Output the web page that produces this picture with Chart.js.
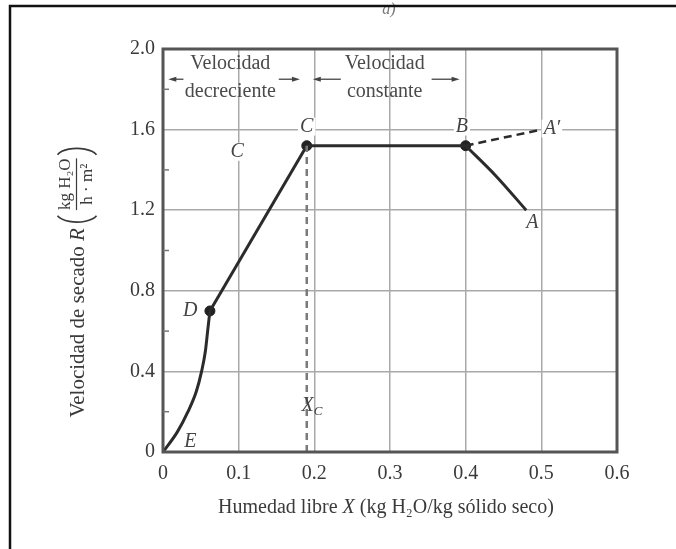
<!DOCTYPE html>
<html lang="es">
<head>
  <meta charset="utf-8">
  <title>Curva de velocidad de secado</title>
  <script src="https://cdn.jsdelivr.net/npm/chart.js@4.4.1/dist/chart.umd.min.js"></script>
  <style>
    html, body { margin: 0; padding: 0; background: #fff; }
    #chart-secado { display: block; }
  </style>
</head>
<body>
  <canvas id="chart-secado" width="676" height="549"></canvas>
  <script>
    // Tramo E-D: velocidad decreciente, parte curva
    var tramoEDx = [0, 0.019, 0.033, 0.044, 0.051, 0.056, 0.059, 0.062];
    var tramoEDy = [0, 0.10, 0.20, 0.30, 0.40, 0.50, 0.60, 0.70];
    // Tramo D-C: recta
    var tramoDCx = [0.062, 0.19];
    var tramoDCy = [0.70, 1.52];
    // Tramo C-B: velocidad constante
    var tramoCBx = [0.19, 0.40];
    var tramoCBy = [1.52, 1.52];
    // Tramo B-A: periodo de ajuste
    var tramoBAx = [0.40, 0.44, 0.48];
    var tramoBAy = [1.52, 1.37, 1.20];
    // Tramo B-A' (discontinuo)
    var tramoBA2x = [0.40, 0.50];
    var tramoBA2y = [1.52, 1.60];
    // Humedad critica Xc
    var criticoX = [0.19, 0.19];
    var criticoY = [0, 1.52];
    // Puntos marcados D, C, B
    var puntosX = [0.062, 0.19, 0.40];
    var puntosY = [0.70, 1.52, 1.52];

    var xTicks = [0, 0.1, 0.2, 0.3, 0.4, 0.5, 0.6];
    var yTicks = [0, 0.4, 0.8, 1.2, 1.6, 2.0];
    var yMenores = [0.2, 0.6, 1.0, 1.4, 1.8];

    // Flechas de las zonas (inicio -> punta), a R = 1.85
    var flechaY = 1.85;
    var flechaDesde = [0.027, 0.153, 0.235, 0.355];
    var flechaHasta = [0.007, 0.181, 0.198, 0.392];

    // Rotulos en coordenadas de datos
    var rotuloTexto = ['Velocidad', 'decreciente', 'Velocidad', 'constante'];
    var rotuloX = [0.089, 0.089, 0.293, 0.293];
    var rotuloY = [1.925, 1.786, 1.925, 1.786];

    var letraTexto = ['C', 'C', 'B', 'A\u2032', 'A', 'D', 'E'];
    var letraX = [0.19, 0.098, 0.395, 0.514, 0.488, 0.036, 0.036];
    var letraY = [1.615, 1.49, 1.615, 1.605, 1.14, 0.70, 0.05];

    var SERIF = '"Liberation Serif", "DejaVu Serif", serif';
    var TINTA = '#3a3a3a';

    function pares(xs, ys) {
      var out = [];
      for (var i = 0; i < xs.length; i++) out.push({ x: xs[i], y: ys[i] });
      return out;
    }

    function tramo(xs, ys, extra) {
      var ds = {
        data: pares(xs, ys),
        showLine: true,
        pointRadius: 0,
        borderColor: '#2b2b2b',
        borderWidth: 3,
        fill: false
      };
      for (var k in extra) ds[k] = extra[k];
      return ds;
    }

    // dibuja varios trozos de texto seguidos, centrados en (cx, cy)
    function textoMixto(ctx, trozos, cx, cy) {
      var total = 0;
      for (var i = 0; i < trozos.length; i++) {
        ctx.font = trozos[i].font;
        trozos[i].w = ctx.measureText(trozos[i].text).width;
        total += trozos[i].w;
      }
      var x = cx - total / 2;
      ctx.textAlign = 'left';
      ctx.textBaseline = 'middle';
      for (var j = 0; j < trozos.length; j++) {
        ctx.font = trozos[j].font;
        ctx.fillText(trozos[j].text, x, cy + (trozos[j].dy || 0));
        x += trozos[j].w;
      }
    }

    var decoracion = {
      id: 'decoracion',
      beforeDraw: function(chart) {
        var ctx = chart.ctx;
        ctx.save();
        ctx.fillStyle = '#fff';
        ctx.fillRect(0, 0, chart.width, chart.height);
        ctx.fillStyle = '#777';
        ctx.font = 'italic 16px ' + SERIF;
        ctx.textAlign = 'center';
        ctx.textBaseline = 'alphabetic';
        ctx.fillText('a)', 389, 14);
        ctx.strokeStyle = '#111';
        ctx.lineWidth = 2.5;
        ctx.beginPath();
        ctx.moveTo(10, chart.height);
        ctx.lineTo(10, 6);
        ctx.lineTo(chart.width, 6);
        ctx.stroke();
        ctx.restore();
      },
      afterDraw: function(chart) {
        var ctx = chart.ctx;
        var a = chart.chartArea;
        var sx = chart.scales.x, sy = chart.scales.y;
        ctx.save();

        // marco del grafico
        ctx.strokeStyle = '#555';
        ctx.lineWidth = 3;
        ctx.strokeRect(a.left, a.top, a.right - a.left, a.bottom - a.top);

        // marcas menores hacia dentro
        ctx.lineWidth = 1.5;
        ctx.strokeStyle = '#777';
        for (var i = 0; i < yMenores.length; i++) {
          var py = sy.getPixelForValue(yMenores[i]);
          ctx.beginPath();
          ctx.moveTo(a.left, py);
          ctx.lineTo(a.left + 6, py);
          ctx.stroke();
        }

        // flechas de zona
        ctx.strokeStyle = '#444';
        ctx.fillStyle = '#444';
        ctx.lineWidth = 1.3;
        var fy = sy.getPixelForValue(flechaY);
        for (var f = 0; f < flechaDesde.length; f++) {
          var x0 = sx.getPixelForValue(flechaDesde[f]);
          var x1 = sx.getPixelForValue(flechaHasta[f]);
          var s = x1 > x0 ? 1 : -1;
          ctx.beginPath();
          ctx.moveTo(x0, fy);
          ctx.lineTo(x1 - s * 6, fy);
          ctx.stroke();
          ctx.beginPath();
          ctx.moveTo(x1, fy);
          ctx.lineTo(x1 - s * 8, fy - 2.5);
          ctx.lineTo(x1 - s * 8, fy + 2.5);
          ctx.closePath();
          ctx.fill();
        }

        // rotulos de zona
        ctx.fillStyle = '#4a4a4a';
        ctx.font = '20px ' + SERIF;
        ctx.textAlign = 'center';
        ctx.textBaseline = 'middle';
        for (var r = 0; r < rotuloTexto.length; r++) {
          ctx.fillText(rotuloTexto[r], sx.getPixelForValue(rotuloX[r]), sy.getPixelForValue(rotuloY[r]));
        }

        // letras de los puntos
        ctx.font = 'italic 20px ' + SERIF;
        for (var l = 0; l < letraTexto.length; l++) {
          var lx = sx.getPixelForValue(letraX[l]);
          var ly = sy.getPixelForValue(letraY[l]);
          ctx.fillStyle = '#fff';
          var w = ctx.measureText(letraTexto[l]).width;
          if (letraTexto[l] !== 'D' && letraTexto[l] !== 'E' && letraTexto[l] !== 'A') {
            ctx.fillRect(lx - w / 2 - 2, ly - 9, w + 4, 18);
          }
          ctx.fillStyle = '#444';
          ctx.fillText(letraTexto[l], lx, ly);
        }

        // X sub C
        var xcx = sx.getPixelForValue(0.197), xcy = sy.getPixelForValue(0.23);
        ctx.fillStyle = '#444';
        textoMixto(ctx, [
          { text: 'X', font: 'italic 20px ' + SERIF },
          { text: 'C', font: 'italic 13px ' + SERIF, dy: 6 }
        ], xcx, xcy);

        // titulo eje x
        ctx.fillStyle = TINTA;
        textoMixto(ctx, [
          { text: 'Humedad libre ', font: '20px ' + SERIF },
          { text: 'X', font: 'italic 20px ' + SERIF },
          { text: ' (kg H\u2082O/kg s\u00f3lido seco)', font: '20px ' + SERIF }
        ], 386, 508);

        // titulo eje y (girado)
        ctx.translate(78, 282);
        ctx.rotate(-Math.PI / 2);
        var partes = [
          { text: 'Velocidad de secado ', font: '21px ' + SERIF },
          { text: 'R', font: 'italic 21px ' + SERIF }
        ];
        var anchoTxt = 0;
        for (var p = 0; p < partes.length; p++) {
          ctx.font = partes[p].font;
          anchoTxt += ctx.measureText(partes[p].text).width;
        }
        ctx.font = '17px ' + SERIF;
        var num = 'kg H\u2082O', den = 'h \u00b7 m\u00b2';
        var anchoFr = Math.max(ctx.measureText(num).width, ctx.measureText(den).width);
        var total = anchoTxt + 6 + 12 + anchoFr + 12;
        var x = -total / 2;
        ctx.textAlign = 'left';
        ctx.textBaseline = 'middle';
        for (var q = 0; q < partes.length; q++) {
          ctx.font = partes[q].font;
          ctx.fillText(partes[q].text, x, 0);
          x += ctx.measureText(partes[q].text).width;
        }
        // parentesis
        ctx.strokeStyle = TINTA;
        ctx.lineWidth = 1.7;
        x += 6;
        ctx.beginPath();
        ctx.ellipse(x + 10, -1, 10, 21, 0, Math.PI * 0.62, Math.PI * 1.38);
        ctx.stroke();
        x += 12;
        ctx.font = '17px ' + SERIF;
        ctx.textAlign = 'center';
        ctx.fillText(num, x + anchoFr / 2, -12);
        ctx.fillText(den, x + anchoFr / 2, 10);
        ctx.lineWidth = 1.2;
        ctx.beginPath();
        ctx.moveTo(x, -1.5);
        ctx.lineTo(x + anchoFr, -1.5);
        ctx.stroke();
        x += anchoFr + 2;
        ctx.lineWidth = 1.7;
        ctx.beginPath();
        ctx.ellipse(x - 2, -1, 10, 21, 0, -Math.PI * 0.38, Math.PI * 0.38);
        ctx.stroke();

        ctx.restore();
      }
    };

    function gridColor(ctx, extremos) {
      var v = ctx.tick ? ctx.tick.value : 0;
      if (Math.abs(v - extremos[0]) < 1e-6 || Math.abs(v - extremos[1]) < 1e-6) return 'rgba(0,0,0,0)';
      return '#a9a9a9';
    }

    var chart = new Chart(document.getElementById('chart-secado'), {
      type: 'scatter',
      data: {
        datasets: [
          tramo(criticoX, criticoY, { borderColor: '#7a7a7a', borderWidth: 2.5, borderDash: [7, 5] }),
          tramo(tramoEDx, tramoEDy, { cubicInterpolationMode: 'monotone' }),
          tramo(tramoDCx, tramoDCy, {}),
          tramo(tramoCBx, tramoCBy, {}),
          tramo(tramoBAx, tramoBAy, { cubicInterpolationMode: 'monotone' }),
          tramo(tramoBA2x, tramoBA2y, { borderWidth: 2.5, borderDash: [8, 5] }),
          {
            data: pares(puntosX, puntosY),
            showLine: false,
            pointRadius: 5,
            pointBackgroundColor: '#222',
            pointBorderColor: '#222'
          }
        ]
      },
      options: {
        responsive: false,
        animation: false,
        events: [],
        layout: { padding: { top: 49, right: 59, left: 0, bottom: 0 } },
        plugins: { legend: { display: false }, tooltip: { enabled: false } },
        scales: {
          x: {
            type: 'linear',
            min: xTicks[0],
            max: xTicks[xTicks.length - 1],
            afterBuildTicks: function(s) { s.ticks = xTicks.map(function(v) { return { value: v }; }); },
            afterFit: function(s) { s.height = 97; },
            border: { display: false },
            grid: {
              drawTicks: false,
              lineWidth: 1.5,
              color: function(c) { return gridColor(c, [0, 0.6]); }
            },
            ticks: {
              autoSkip: false,
              maxRotation: 0,
              padding: 10,
              color: TINTA,
              font: { family: SERIF, size: 20 },
              callback: function(v) { return v === 0 ? '0' : v.toFixed(1); }
            }
          },
          y: {
            min: yTicks[0],
            max: yTicks[yTicks.length - 1],
            afterBuildTicks: function(s) { s.ticks = yTicks.map(function(v) { return { value: v }; }); },
            afterFit: function(s) { s.width = 163; },
            border: { display: false },
            grid: {
              drawTicks: false,
              lineWidth: 1.5,
              color: function(c) { return gridColor(c, [0, 2]); }
            },
            ticks: {
              autoSkip: false,
              padding: 8,
              color: TINTA,
              font: { family: SERIF, size: 20 },
              callback: function(v) { return v === 0 ? '0' : v.toFixed(1); }
            }
          }
        }
      },
      plugins: [decoracion]
    });
  </script>
</body>
</html>
